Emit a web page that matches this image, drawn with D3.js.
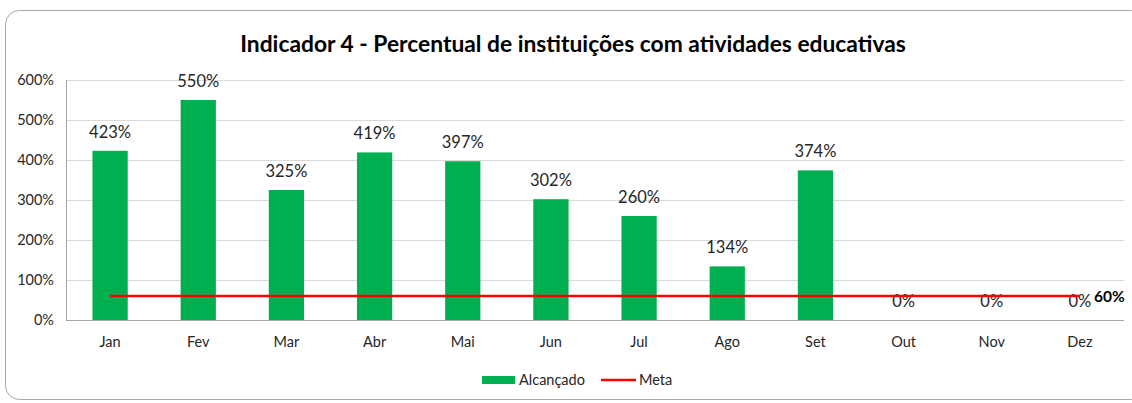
<!DOCTYPE html>
<html>
<head>
<meta charset="utf-8">
<script src="https://cdn.jsdelivr.net/npm/d3@7"></script>
<style>
  body { margin: 0; background: #fff; }
  text { font-family: Lato, "Open Sans", sans-serif; }
</style>
</head>
<body>
<div class="chart"></div>
<script>
// data
const months = ['Jan','Fev','Mar','Abr','Mai','Jun','Jul','Ago','Set','Out','Nov','Dez']
const alcancado = [423, 550, 325, 419, 397, 302, 260, 134, 374, 0, 0, 0]
const meta = [60, 60, 60, 60, 60, 60, 60, 60, 60, 60, 60, 60]
const yTicks = [0, 100, 200, 300, 400, 500, 600]

var W = 1132, H = 403
var margin = {top: 80, right: 8, bottom: 83, left: 66},
    width = W - margin.left - margin.right,
    height = H - margin.top - margin.bottom

var svg = d3.select(".chart")
  .append("svg")
  .attr("width", W)
  .attr("height", H)

// outer frame
svg.append("rect")
  .attr("x", 5.5).attr("y", 10.5)
  .attr("width", 1140).attr("height", 389)
  .attr("rx", 14)
  .attr("fill", "none")
  .attr("stroke", "#a6a6a6")
  .attr("stroke-width", 1)

svg.append("text")
  .attr("x", 573).attr("y", 52)
  .attr("text-anchor", "middle")
  .style("font-size", "22.8px")
  .style("font-weight", "bold")
  .text("Indicador 4 - Percentual de instituições com atividades educativas")

var g = svg.append("g")
  .attr("transform", "translate(" + margin.left + "," + margin.top + ")")

var x = d3.scaleBand()
  .domain(months)
  .range([0, width])
  .paddingInner(0.6)
  .paddingOuter(0.3)

var y = d3.scaleLinear()
  .domain([0, 600])
  .range([height, 0])

// gridlines
g.selectAll(".grid")
  .data(yTicks)
  .enter().append("line")
  .attr("x1", 0).attr("x2", width)
  .attr("y1", d => Math.round(y(d)) + 0.5)
  .attr("y2", d => Math.round(y(d)) + 0.5)
  .attr("stroke", d => d == 0 ? "#a6a6a6" : "#d9d9d9")

g.append("line")
  .attr("x1", 0.5).attr("x2", 0.5)
  .attr("y1", 0).attr("y2", height)
  .attr("stroke", "#a6a6a6")

// y tick labels
g.selectAll(".ylab")
  .data(yTicks)
  .enter().append("text")
  .attr("x", -12)
  .attr("y", d => y(d))
  .attr("dy", "0.35em")
  .attr("text-anchor", "end")
  .style("font-size", "14.5px")
  .style("fill", "#262626")
  .text(d => d + "%")

// x labels
g.selectAll(".xlab")
  .data(months)
  .enter().append("text")
  .attr("x", d => x(d) + x.bandwidth() / 2)
  .attr("y", height + 27)
  .attr("text-anchor", "middle")
  .style("font-size", "14.5px")
  .style("fill", "#262626")
  .text(d => d)

// bars
g.selectAll(".bar")
  .data(alcancado)
  .enter().append("rect")
  .attr("x", (d, i) => x(months[i]))
  .attr("y", d => y(d))
  .attr("width", x.bandwidth())
  .attr("height", d => height - y(d))
  .attr("fill", "#00b050")

// bar labels
g.selectAll(".blab")
  .data(alcancado)
  .enter().append("text")
  .attr("x", (d, i) => x(months[i]) + x.bandwidth() / 2)
  .attr("y", d => y(d) - 13)
  .attr("text-anchor", "middle")
  .style("font-size", "16.5px")
  .style("fill", "#262626")
  .text(d => d + "%")

// meta line
var line = d3.line()
  .x((d, i) => x(months[i]) + x.bandwidth() / 2)
  .y(d => y(d))

g.append("path")
  .datum(meta)
  .attr("d", line)
  .attr("fill", "none")
  .attr("stroke", "#ff0000")
  .attr("stroke-width", 2.5)

g.append("text")
  .attr("x", x(months[11]) + x.bandwidth() / 2 + 14)
  .attr("y", y(meta[11]) + 6)
  .style("font-size", "15.5px")
  .style("font-weight", "bold")
  .text(meta[11] + "%")

// legend
var legend = svg.append("g").attr("transform", "translate(482,380)")
legend.append("rect")
  .attr("x", 0).attr("y", -4)
  .attr("width", 33).attr("height", 8)
  .attr("fill", "#00b050")
legend.append("text")
  .attr("x", 37).attr("y", 0).attr("dy", "0.35em")
  .style("font-size", "14.5px")
  .style("fill", "#262626")
  .text("Alcançado")
legend.append("line")
  .attr("x1", 119).attr("x2", 154)
  .attr("y1", 0).attr("y2", 0)
  .attr("stroke", "#ff0000")
  .attr("stroke-width", 2.5)
legend.append("text")
  .attr("x", 157).attr("y", 0).attr("dy", "0.35em")
  .style("font-size", "14.5px")
  .style("fill", "#262626")
  .text("Meta")
</script>
</body>
</html>
